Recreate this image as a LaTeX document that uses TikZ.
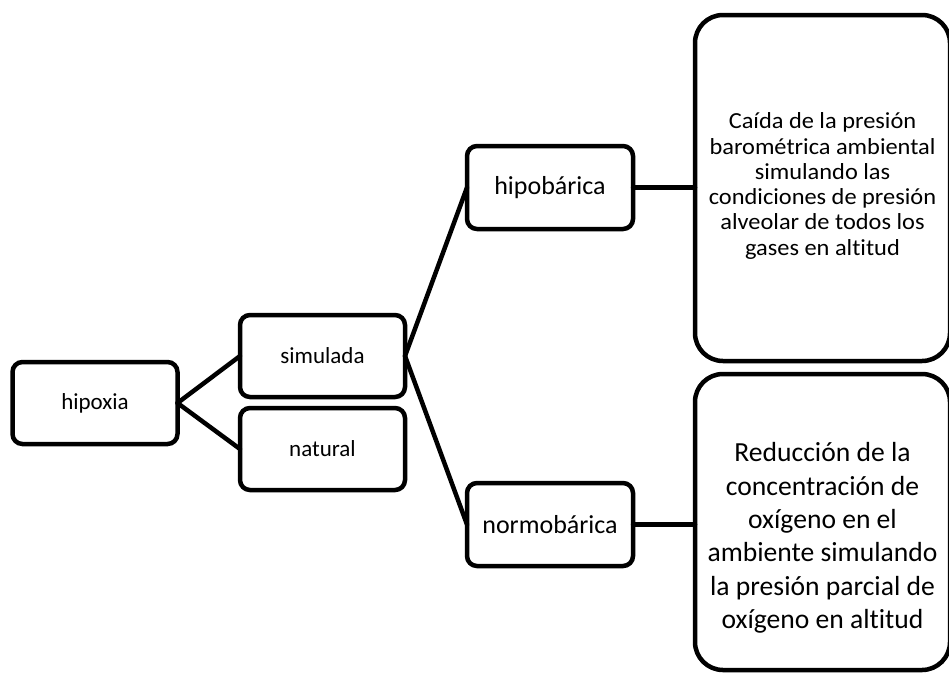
\documentclass[tikz,border=0pt]{standalone}
\usepackage{fontspec}
\setmainfont{Carlito}[Ligatures=NoCommon]
\newfontfamily\widecarlito{Carlito}[FakeStretch=1.06, Ligatures=NoCommon]
\begin{document}
\begin{tikzpicture}[x=1pt,y=-1pt,
  box/.style={draw=black, fill=white, line width=4.5pt, rounded corners=10pt,
    inner sep=0pt, outer sep=0pt, minimum width=165pt, minimum height=82pt,
    font=\fontsize{23}{28}\selectfont},
  midbox/.style={box, minimum width=166pt, minimum height=83pt,
    font=\fontsize{26}{31}\selectfont},
  bigbox/.style={draw=black, fill=white, line width=4.5pt, rounded corners=28pt,
    inner sep=0pt, outer sep=0pt, minimum width=255pt},
  toptext/.style={align=center, inner sep=0pt,
    font=\widecarlito\fontsize{23}{25.3}\selectfont},
  bottext/.style={align=center, inner sep=0pt,
    font=\fontsize{27.6}{33.3}\selectfont},
  link/.style={draw=black, line width=4.5pt, line cap=round, line join=round}
]
\useasboundingbox (0,0) rectangle (949,672);
\clip (0,0) rectangle (949,672);

% tree of boxes, left to right
\node[box] (hipoxia) at (95,403) {hipoxia};
\node[box] (simulada) at (322.5,356) {simulada};
\node[box] (natural) at (322.5,449) {natural};
\node[midbox] (hipobarica) at (550,187.5) {hipobárica};
\node[midbox] (normobarica) at (550,524.5) {normobárica};

% description panels on the right
\node[bigbox, minimum height=346pt] (caida) at (822.5,188) {};
\node[bigbox, minimum height=296pt] (reduccion) at (822.5,522) {};
\node[toptext] (caidatext) at (822.5,186)
  {Caída de la presión\\barométrica ambiental\\simulando las\\condiciones de presión\\alveolar de todos los\\gases en altitud};
\node[bottext] (reducciontext) at (822.5,538)
  {Reducción de la\\concentración de\\oxígeno en el\\ambiente simulando\\la presión parcial de\\oxígeno en altitud};

% connectors
\draw[link] (hipoxia.east) -- (simulada.west);
\draw[link] (hipoxia.east) -- (natural.west);
\draw[link] (simulada.east) -- (hipobarica.west);
\draw[link] (simulada.east) -- (normobarica.west);
\draw[link] (hipobarica.east) -- (hipobarica.east -| caida.west);
\draw[link] (normobarica.east) -- (normobarica.east -| reduccion.west);
\end{tikzpicture}
\end{document}
